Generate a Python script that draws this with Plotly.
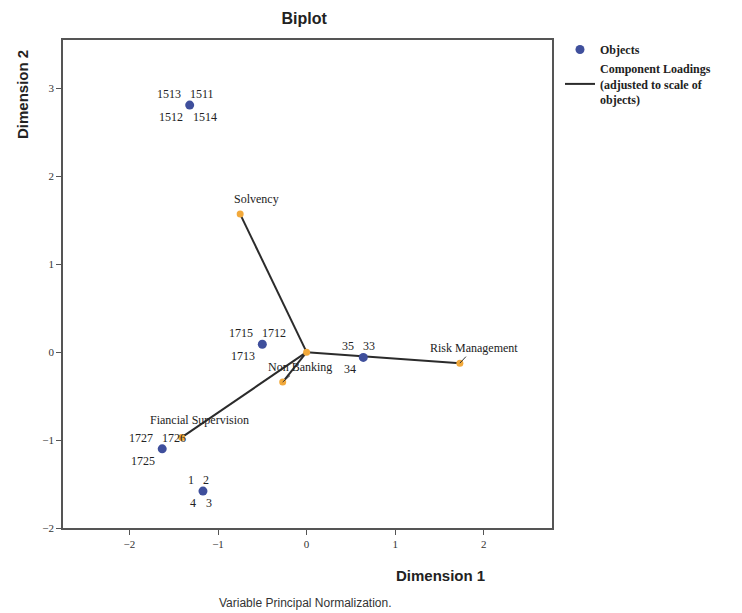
import plotly.graph_objects as go

# Object points (each point is a cluster of overlapping cases)
obj_x = [-1.32, -0.50, 0.64, -1.63, -1.17]
obj_y = [2.81, 0.09, -0.06, -1.10, -1.58]
# labels: [top-left, top-right, bottom-left, bottom-right]
obj_labels = [
    ["1513", "1511", "1512", "1514"],
    ["1715", "1712", "1713", ""],
    ["35", "33", "34", ""],
    ["1727", "1726", "1725", ""],
    ["1", "2", "4", "3"],
]

# Component loadings (adjusted to scale of objects)
load_names = ["Solvency", "Risk Management", "Non Banking", "Fiancial Supervision", ""]
load_x = [-0.75, 1.73, -0.27, -1.41, 0.0]
load_y = [1.57, -0.125, -0.34, -0.97, 0.0]

fig = go.Figure()

# loading vectors
lx, ly = [], []
for x, y in zip(load_x, load_y):
    lx += [0, x, None]
    ly += [0, y, None]
fig.add_trace(go.Scatter(x=lx, y=ly, mode="lines",
                         line=dict(color="#2b2b2b", width=2),
                         name="<b>Component Loadings<br>(adjusted to scale of<br>objects)</b>",
                         hoverinfo="skip", legendrank=2))
fig.add_trace(go.Scatter(x=load_x, y=load_y, mode="markers",
                         marker=dict(color="#f2a93b", size=7),
                         showlegend=False))
fig.add_trace(go.Scatter(x=obj_x, y=obj_y, mode="markers",
                         marker=dict(color="#3f4f9c", size=9),
                         name="<b>Objects</b>", legendrank=1))

serif = "Liberation Serif"
# (xanchor, xshift, yshift) for TL, TR, BL, BR
offs = [("right", -7, 11), ("left", -2, 11), ("right", -5, -12), ("left", 1, -12)]
for x, y, labs in zip(obj_x, obj_y, obj_labels):
    for lab, (anc, dx, dy) in zip(labs, offs):
        if lab:
            fig.add_annotation(x=x, y=y, text=lab, showarrow=False,
                               xanchor=anc, xshift=dx, yshift=dy,
                               font=dict(family=serif, size=12, color="#222"))

# loading labels
lab_pos = {
    "Solvency": dict(showarrow=False, xshift=16, yshift=15),
    "Risk Management": dict(showarrow=True, ax=14, ay=-15),
    "Non Banking": dict(showarrow=True, ax=17, ay=-15),
    "Fiancial Supervision": dict(showarrow=False, xshift=18, yshift=17),
}
for name, x, y in zip(load_names, load_x, load_y):
    if not name:
        continue
    p = lab_pos[name]
    if p["showarrow"]:
        fig.add_annotation(x=x, y=y, text=name, showarrow=True, arrowhead=0,
                           arrowwidth=1, arrowcolor="#333", ax=p["ax"], ay=p["ay"],
                           font=dict(family=serif, size=12, color="#222"))
    else:
        fig.add_annotation(x=x, y=y, text=name, showarrow=False,
                           xshift=p["xshift"], yshift=p["yshift"],
                           font=dict(family=serif, size=12, color="#222"))

# axis titles and caption
fig.add_annotation(text="<b>Dimension 1</b>", xref="paper", yref="paper",
                   x=(440 - 63) / 489, y=-(575 - 528) / 488, showarrow=False,
                   xanchor="center", yanchor="middle",
                   font=dict(family="Liberation Sans", size=15, color="#222"))
fig.add_annotation(text="<b>Dimension 2</b>", xref="paper", yref="paper",
                   x=-(63 - 22) / 489, y=(528 - 95) / 488, showarrow=False, textangle=-90,
                   xanchor="center", yanchor="middle",
                   font=dict(family="Liberation Sans", size=15, color="#222"))
fig.add_annotation(text="Variable Principal Normalization.", xref="paper", yref="paper",
                   x=(305 - 63) / 489, y=-(603 - 528) / 488, showarrow=False,
                   xanchor="center", yanchor="middle",
                   font=dict(family="Liberation Sans", size=12, color="#333"))

axis_common = dict(showline=True, linecolor="#555", linewidth=1.5, mirror=True,
                   ticks="outside", ticklen=5, tickcolor="#555", showgrid=False,
                   zeroline=False, automargin=False,
                   tickfont=dict(family=serif, size=11, color="#333"))
fig.update_xaxes(range=[-2.75, 2.77], tickvals=[-2, -1, 0, 1, 2], **axis_common)
fig.update_yaxes(range=[-2, 3.55], tickvals=[-2, -1, 0, 1, 2, 3], **axis_common)

fig.update_layout(
    width=742, height=613,
    plot_bgcolor="white", paper_bgcolor="white",
    margin=dict(l=63, r=190, t=40, b=85),
    title=dict(text="<b>Biplot</b>", x=0.41, xanchor="center",
               y=1 - 18 / 613, yanchor="middle",
               font=dict(family="Liberation Sans", size=16, color="#222")),
    legend=dict(x=(560 - 63) / 489, y=(528 - 35) / 488, xanchor="left", yanchor="top",
                font=dict(family=serif, size=12, color="#222"),
                tracegroupgap=0, itemwidth=30),
    showlegend=True,
)

fig.write_html("out.html", config={"displayModeBar": False},
               post_script="document.body.style.margin='0';document.body.style.overflow='hidden';")
